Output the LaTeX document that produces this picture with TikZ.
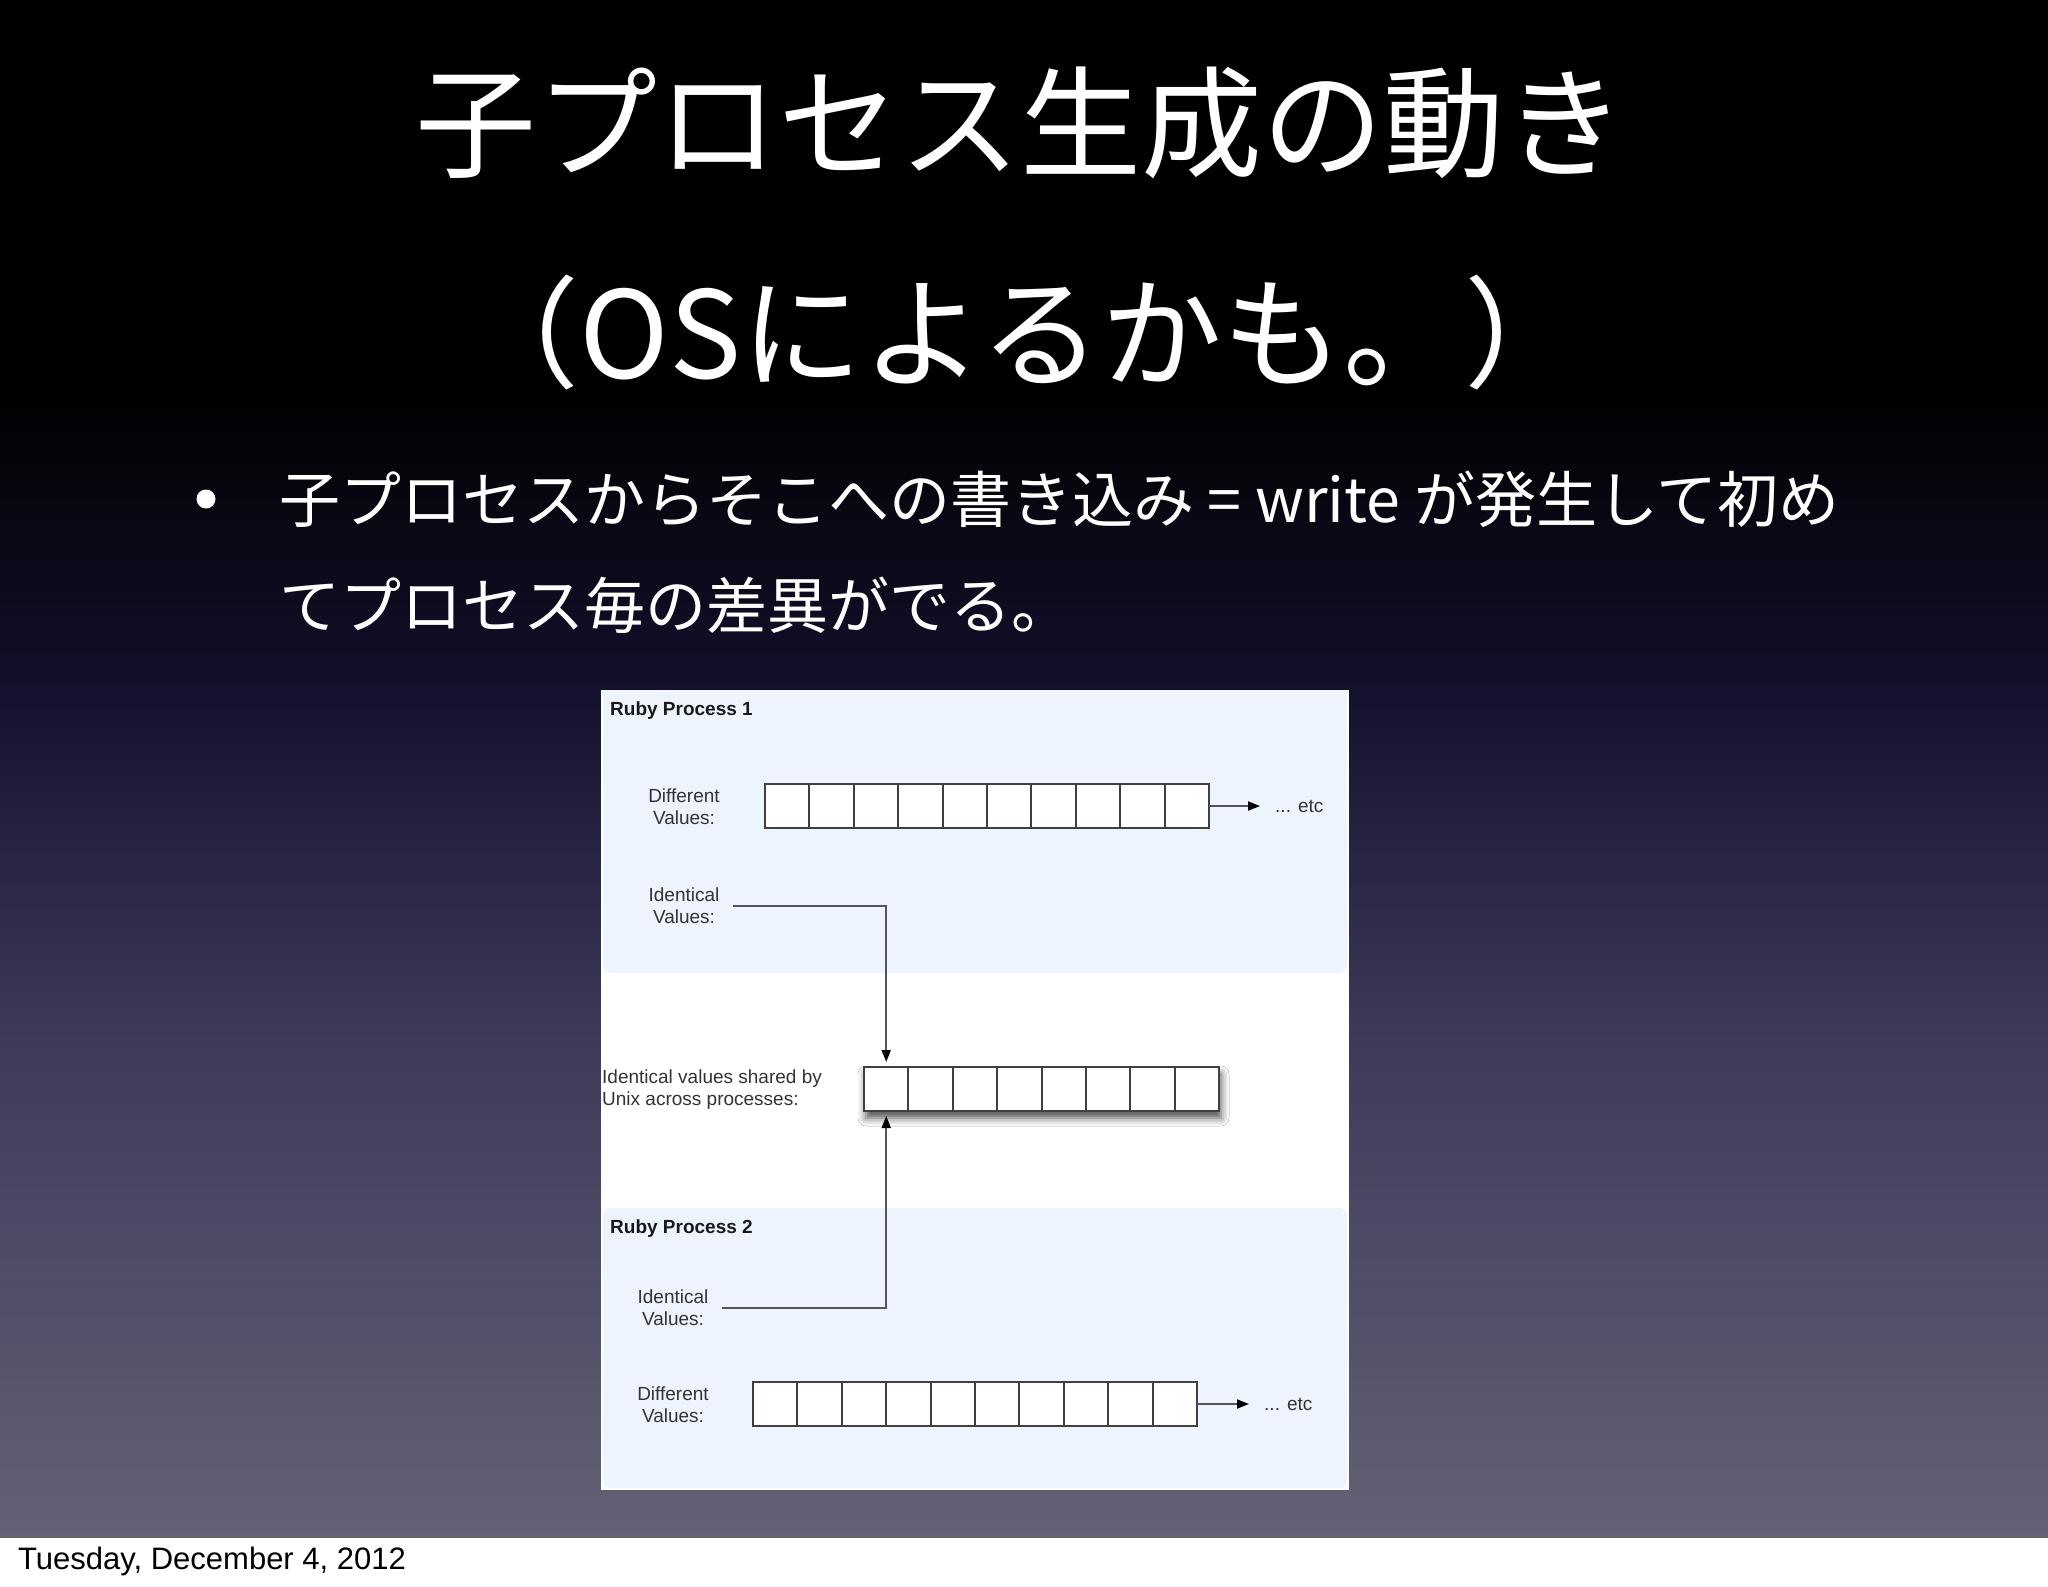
\documentclass[tikz,border=0pt]{standalone}
\usepackage{fontspec}
\setmainfont{Liberation Sans}
\newfontfamily\jpfont{Noto Sans CJK JP}
\usetikzlibrary{arrows.meta,shadows.blur}
\definecolor{bgA}{HTML}{000000}
\definecolor{bgB}{HTML}{12102A}
\definecolor{bgC}{HTML}{3C3A58}
\definecolor{bgD}{HTML}{646276}
\definecolor{panelc}{HTML}{EDF4FE}
\definecolor{cellc}{HTML}{404040}
\definecolor{linec}{HTML}{555555}
\definecolor{lblc}{HTML}{333333}
\pgfdeclareverticalshading{slidebg}{100bp}{color(0bp)=(bgD); color(25bp)=(bgD); color(41.5bp)=(bgC); color(52.9bp)=(bgB); color(62.6bp)=(bgA); color(100bp)=(bgA)}
\begin{document}
\begin{tikzpicture}[x=1pt,y=-1pt,
  cell/.style={draw=cellc, line width=2pt, fill=white, minimum width=44.4pt, minimum height=44pt, inner sep=0pt, outer sep=0pt},
  lbl/.style={font=\fontsize{19}{22}\selectfont, text=lblc, align=center, inner ysep=0pt, inner xsep=13pt},
  etc/.style={font=\fontsize{19}{22}\selectfont, text=lblc, anchor=west, inner ysep=0pt, inner xsep=15pt},
  proc/.style={font=\fontsize{19}{22}\selectfont\bfseries, text=black!90, anchor=west, inner sep=0pt},
  conn/.style={draw=linec, line width=1.8pt},
  tip/.style={-{Triangle[length=12pt,width=9pt,color=black]}},
  titletxt/.style={font=\jpfont\fontsize{121}{130}\selectfont, text=white, inner sep=0pt},
  bodytxt/.style={font=\jpfont\fontsize{61}{70}\selectfont, text=white, inner sep=0pt}
]
\useasboundingbox (0,0) rectangle (2048,1587);
% slide background
\shade[shading=slidebg] (0,0) rectangle (2048,1537);
\fill[white] (0,1537) rectangle (2048,1587);
\draw[black!60, line width=1.5pt] (0,1537) -- (2048,1537);

% titles
\node[titletxt, anchor=base] (t1) at (1020,168) {子プロセス生成の動き};
\node[titletxt, anchor=base] (t2) at (1022,378) {（OSによるかも。）};

% bullet
\node[circle, fill=white, minimum size=19pt, inner sep=0pt] (bul) at (206,499) {};
\node[bodytxt, anchor=base west] (b1) at (279,522) {子プロセスからそこへの書き込み = write が発生して初め};
\node[bodytxt, anchor=base west] (b2) at (279,628) {てプロセス毎の差異がでる。};

% diagram image
\fill[white] (601,690) rectangle (1349,1490);
\fill[panelc] (603,690) rectangle (1347,960);
\fill[panelc, rounded corners=8pt] (603,700) rectangle (1347,973);
\fill[panelc, rounded corners=8pt] (603,1208) rectangle (1347,1488);

\node[proc] (p1) at (610,711) {Ruby Process 1};
\node[proc] (p2) at (610,1229) {Ruby Process 2};

% process 1 different values
\node[lbl] (d1) at (684,807) {Different\\Values:};
\foreach \i in {1,...,10} {
  \node[cell] (a\i) at ({765+22.2+44.4*(\i-1)},806) {};
}
\node[etc] (e1) at (1260,806) {... etc};
\draw[conn, tip] (a10.east) -- (e1.west);

% identical 1
\node[lbl] (i1) at (684,906) {Identical\\Values:};

% shared array with shadow
\fill[white, blur shadow={shadow xshift=2pt, shadow yshift=-7pt, shadow blur radius=8pt, shadow opacity=70}] (864,1067) rectangle (1219,1111);
\foreach \i in {1,...,8} {
  \node[cell] (s\i) at ({864+22.2+44.4*(\i-1)},1089) {};
}
\node[lbl, align=left, anchor=west, inner xsep=2pt] (sl) at (600,1090) {Identical values shared by\\Unix across processes:};

% identical 2
\node[lbl] (i2) at (673,1308) {Identical\\Values:};

% process 2 different values
\node[lbl] (d2) at (673,1405) {Different\\Values:};
\foreach \i in {1,...,10} {
  \node[cell] (c\i) at ({753+22.2+44.4*(\i-1)},1404) {};
}
\node[etc] (e2) at (1249,1404) {... etc};
\draw[conn, tip] (c10.east) -- (e2.west);

% connectors
\draw[conn, tip, shorten >=5pt] (i1.east) -| (s1.north);
\draw[conn, tip, shorten >=5pt] (i2.east) -| (s1.south);

% date
\node[anchor=base west, font=\fontsize{31}{36}\selectfont, inner sep=0pt] (date) at (18,1569) {Tuesday, December 4, 2012};
\end{tikzpicture}
\end{document}
